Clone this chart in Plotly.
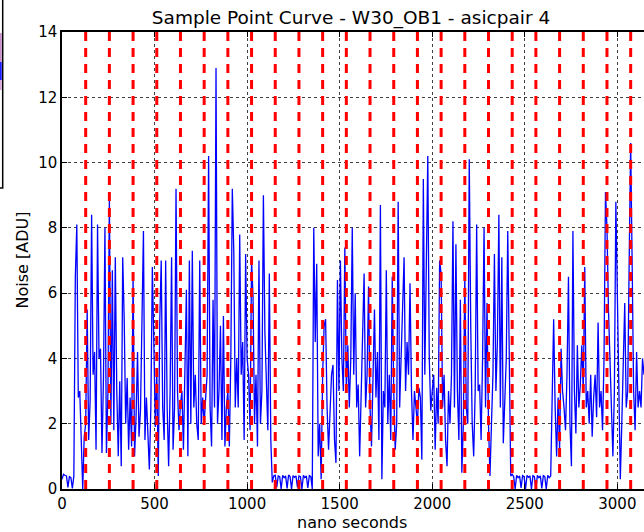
import plotly.graph_objects as go

# ---- data ----
step_ns = 8
noise_adu = [
    # 0 - 120
    0.30, 0.45, 0.42, 0.40, 0.05, 0.38, 0.35, 0.02, 0.40, 6.5, 8.1, 2.8, 3.0, 1.5, 0.0, 1.6,
    # 128 - 248
    2.0, 5.5, 1.5, 2.7, 8.4, 3.5, 4.2, 1.2, 8.1, 4.0, 4.3, 1.1, 3.4, 8.0, 1.1, 2.9,
    # 256 - 376
    8.9, 2.0, 6.7, 1.8, 7.1, 3.0, 1.0, 3.3, 0.7, 7.1, 5.2, 2.0, 3.4, 1.2, 2.8, 1.3,
    # 384 - 504
    6.5, 1.0, 2.2, 4.2, 1.6, 2.4, 5.8, 7.9, 1.5, 2.8, 1.7, 0.6, 2.5, 6.8, 4.5, 1.9,
    # 512 - 632
    3.6, 0.4, 5.1, 7.0, 2.5, 1.5, 7.0, 2.5, 0.7, 3.0, 7.1, 1.2, 2.5, 9.2, 3.0, 1.8,
    # 640 - 760
    2.6, 3.0, 1.2, 3.5, 6.1, 1.0, 7.0, 2.0, 7.3, 2.5, 3.5, 2.0, 1.5, 7.0, 2.0, 2.8,
    # 768 - 888
    2.0, 2.8, 3.5, 10.2, 2.5, 1.3, 5.8, 2.5, 12.9, 2.0, 3.0, 5.0, 1.5, 5.3, 1.3, 2.5,
    # 896 - 1016
    3.0, 1.3, 4.0, 9.2, 7.3, 2.5, 4.0, 2.5, 7.8, 3.5, 4.5, 1.5, 7.2, 4.0, 3.5, 1.8,
    # 1024 - 1144
    7.0, 5.9, 2.0, 3.5, 1.3, 7.0, 2.0, 3.0, 9.0, 4.8, 3.4, 1.8, 6.6, 1.5, 0.2, 0.4,
    # 1152 - 1272
    0.42, 0.05, 0.40, 0.38, 0.0, 0.42, 0.35, 0.40, 0.02, 0.43, 0.38, 0.0, 0.41, 0.36, 0.40, 0.05,
    # 1280 - 1400
    0.40, 0.38, 0.0, 0.42, 0.35, 0.40, 0.03, 0.41, 0.38, 0.0, 8.0, 4.5, 6.9, 1.0, 2.0, 0.3,
    # 1408 - 1528
    3.5, 5.0, 5.2, 2.5, 1.2, 2.2, 3.5, 3.8, 1.5, 0.8, 6.4, 3.0, 7.0, 4.0, 3.0, 7.4,
    # 1536 - 1656
    3.0, 4.4, 2.5, 4.0, 8.0, 3.5, 6.0, 2.5, 3.2, 1.0, 3.0, 4.0, 6.6, 2.5, 3.5, 6.2,
    # 1664 - 1784
    2.5, 1.3, 3.5, 5.5, 2.8, 4.2, 1.5, 8.7, 0.3, 3.0, 2.5, 6.7, 2.0, 3.5, 1.5, 6.5,
    # 1792 - 1912
    3.0, 1.2, 2.0, 8.8, 2.5, 4.0, 5.0, 7.1, 3.0, 4.5, 3.5, 6.3, 3.0, 1.5, 3.0, 2.4,
    # 1920 - 2040
    2.0, 3.1, 2.8, 0.9, 9.5, 3.5, 7.5, 10.2, 4.0, 2.4, 3.0, 3.5, 1.2, 3.1, 2.0, 7.0,
    # 2048 - 2168
    6.6, 2.5, 3.5, 1.5, 0.7, 3.0, 2.0, 3.5, 8.2, 2.5, 7.5, 3.0, 1.5, 5.8, 0.5, 2.0,
    # 2176 - 2296
    6.5, 2.5, 2.0, 10.1, 5.0, 2.0, 1.0, 3.0, 8.1, 3.0, 3.2, 1.5, 4.0, 8.0, 2.5, 5.7,
    # 2304 - 2424
    2.0, 0.4, 2.0, 3.5, 7.2, 3.0, 4.5, 8.4, 2.5, 7.1, 1.4, 3.0, 4.0, 7.9, 3.0, 0.4,
    # 2432 - 2552
    0.45, 0.38, 0.0, 0.42, 0.35, 0.40, 0.03, 0.41, 0.38, 0.0, 0.42, 0.36, 0.40, 0.0, 0.41, 0.38,
    # 2560 - 2680
    0.0, 0.42, 0.35, 0.40, 0.02, 0.41, 0.38, 0.0, 0.42, 0.35, 0.40, 3.4, 5.2, 2.5, 1.0, 2.8,
    # 2688 - 2808
    1.2, 4.3, 3.0, 2.5, 1.8, 3.5, 6.5, 2.0, 0.7, 7.9, 3.0, 1.7, 4.4, 2.5, 3.2, 4.4,
    # 2816 - 2936
    3.0, 6.8, 2.5, 3.0, 2.0, 3.5, 1.6, 2.8, 3.5, 2.2, 5.1, 2.5, 3.0, 1.8, 4.0, 9.1,
    # 2944 - 3064
    8.0, 5.5, 4.2, 2.5, 1.0, 3.0, 8.8, 6.0, 2.5, 0.3, 2.0, 3.5, 5.7, 2.5, 3.0, 7.0,
    # 3072 - 3144
    10.6, 6.9, 3.0, 1.8, 4.2, 2.5, 3.0, 2.5, 4.0, 3.5,
]
time_ns = [i * step_ns for i in range(len(noise_adu))]

asic_boundaries_ns = [128, 256, 384, 512, 640, 768, 896, 1024, 1152, 1280, 1408, 1536,
                      1664, 1792, 1920, 2048, 2176, 2304, 2432, 2560, 2688, 2816, 2944, 3072]

x_ticks = [0, 500, 1000, 1500, 2000, 2500, 3000]
y_ticks = [0, 2, 4, 6, 8, 10, 12, 14]

title_text = "Sample Point Curve - W30_OB1 - asicpair 4"
x_label = "nano seconds"
y_label = "Noise [ADU]"

FONT = "DejaVu Sans"

fig = go.Figure()
fig.add_trace(go.Scatter(
    x=time_ns, y=noise_adu, mode="lines",
    line=dict(color="#0000ff", width=1.3),
    showlegend=False, hoverinfo="skip",
))

shapes = []
for b in asic_boundaries_ns:
    shapes.append(dict(type="line", xref="x", yref="paper", x0=b, x1=b, y0=0, y1=1,
                       line=dict(color="#ff0000", width=3, dash="9px,7px"), layer="above"))

# partially visible box at the far left (piece of a neighbouring legend)
shapes.append(dict(type="rect", xref="paper", yref="paper",
                   x0=-0.2, x1=(2.7 - 62) / 582, y0=(489 - 188) / 457, y1=1.2,
                   line=dict(color="black", width=1.5), fillcolor="white", layer="above"))
shapes.append(dict(type="rect", xref="paper", yref="paper",
                   x0=-0.2, x1=(1.8 - 62) / 582, y0=(489 - 62) / 457, y1=(489 - 33) / 457,
                   line=dict(width=0), fillcolor="#c890c8", layer="above"))
shapes.append(dict(type="rect", xref="paper", yref="paper",
                   x0=-0.2, x1=(1.8 - 62) / 582, y0=(489 - 80) / 457, y1=(489 - 62) / 457,
                   line=dict(width=0), fillcolor="#2020ff", layer="above"))
shapes.append(dict(type="rect", xref="paper", yref="paper",
                   x0=-0.2, x1=(1.8 - 62) / 582, y0=(489 - 90) / 457, y1=(489 - 80) / 457,
                   line=dict(width=0), fillcolor="#d8a8d8", layer="above"))

fig.update_layout(
    width=644, height=532,
    margin=dict(l=62, r=0, t=32, b=43),
    paper_bgcolor="white", plot_bgcolor="white",
    font=dict(family=FONT, color="black", size=15),
    title=dict(text=title_text, x=351 / 644, xanchor="center", y=1 - 18 / 532, yanchor="middle",
               font=dict(family=FONT, size=18.5, color="black")),
    shapes=shapes,
    annotations=[
        dict(text=x_label, xref="paper", yref="paper", x=(352 - 62) / 582, y=(489 - 522) / 457,
             showarrow=False, xanchor="center", yanchor="middle",
             font=dict(family=FONT, size=16, color="black")),
        dict(text=y_label, xref="paper", yref="paper", x=(22 - 62) / 582, y=0.5, textangle=-90,
             showarrow=False, xanchor="center", yanchor="middle",
             font=dict(family=FONT, size=16, color="black")),
    ],
)

fig.update_xaxes(
    range=[0, 3144], tickvals=x_ticks, ticktext=[str(t) for t in x_ticks],
    showgrid=True, gridcolor="rgba(0,0,0,0.75)", griddash="dot", gridwidth=1,
    showline=True, linecolor="black", linewidth=1.5, mirror="ticks",
    ticks="inside", ticklen=5, tickcolor="black",
    zeroline=False, tickfont=dict(family=FONT, size=15),
)
fig.update_yaxes(
    range=[0, 14], tickvals=y_ticks, ticktext=[str(t) for t in y_ticks],
    showgrid=True, gridcolor="rgba(0,0,0,0.75)", griddash="dot", gridwidth=1,
    showline=True, linecolor="black", linewidth=1.5,
    ticks="inside", ticklen=5, tickcolor="black",
    zeroline=False, tickfont=dict(family=FONT, size=15),
)

fig.write_html("out.html")
